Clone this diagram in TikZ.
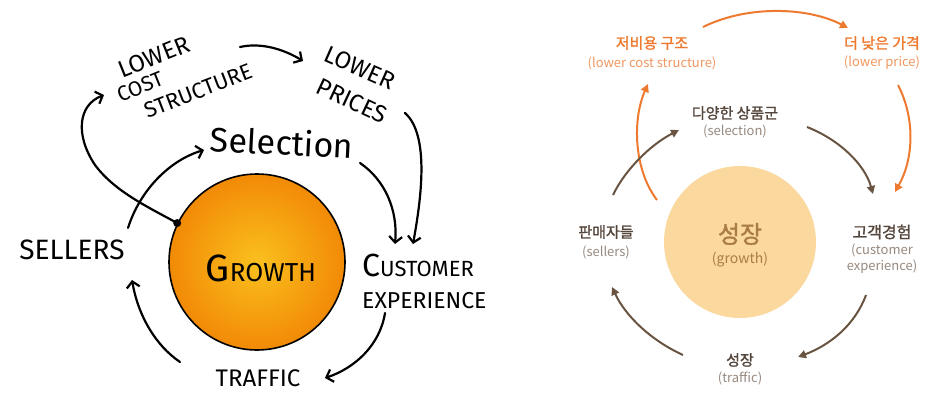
\documentclass[tikz,border=0pt]{standalone}
\usepackage{fontspec}
\setmainfont{Fira Sans}
\newfontfamily\kr{Noto Sans CJK KR}
\newfontfamily\krb{Noto Sans CJK KR}[FakeBold=1.5]
\usetikzlibrary{arrows.meta}
\definecolor{korange}{RGB}{238,122,48}
\definecolor{korangelt}{RGB}{240,150,95}
\definecolor{kbrown}{RGB}{105,84,66}
\definecolor{kdark}{RGB}{85,70,60}
\definecolor{kgray}{RGB}{150,136,126}
\definecolor{kpale}{RGB}{250,216,158}
\definecolor{kpaletxt}{RGB}{170,125,70}
\definecolor{gin}{RGB}{250,192,30}
\definecolor{gout}{RGB}{242,138,6}
\tikzset{
  hand/.style={font=\fontsize{#1}{#1}\selectfont, inner sep=0pt},
  larrow/.style={line width=2.2pt, line cap=round, -{Straight Barb[length=6pt,width=13pt]}},
  oarrow/.style={line width=2pt, korange, -{Triangle[length=8pt,width=8pt]}},
  barrow/.style={line width=2pt, kbrown, -{Triangle[length=8pt,width=8pt]}},
  ktitle/.style={font=\krb\fontsize{#1}{#1}\selectfont, inner sep=0pt, text=kdark},
  ksub/.style={font=\kr\fontsize{#1}{#1}\selectfont, inner sep=0pt, text=kgray},
}
\begin{document}
\begin{tikzpicture}[x=1pt,y=-1pt]
\useasboundingbox (0,0) rectangle (927,394);
% ---------------- left: hand-drawn flywheel ----------------
\node[circle, draw, line width=1.6pt, minimum size=176pt, inner sep=0pt,
      inner color=gin, outer color=gout] (g) at (257,262) {};
\node[hand=26] (gt) at (261,268) {\fontsize{38}{38}\selectfont G\fontsize{26}{26}\selectfont ROWTH};

\node[hand=24, rotate=22] (lcsA) at (154,57) {LOWER};
\node[hand=21, rotate=22] (lcsB) at (140,87) {COST};
\node[hand=22, rotate=21] (lcsC) at (198,91) {STRUCTURE};
\node[hand=24, rotate=-24] (lpA) at (360,68) {LOWER};
\node[hand=24, rotate=-25] (lpB) at (352,101) {PRICES};
\node[hand=34, rotate=-3] (sel) at (282,142) {Selection};
\node[hand=28] (sell) at (72,250) {SELLERS};
\node[hand=24, anchor=west] (cx1) at (362,265) {\fontsize{32}{32}\selectfont C\fontsize{22}{22}\selectfont USTOMER};
\node[hand=23, anchor=west] (cx2) at (362,301) {EXPERIENCE};
\node[hand=24] (tr) at (258,378) {TRAFFIC};

\coordinate (a1s) at (240,47);  \coordinate (a1e) at (303,61);
\coordinate (a2s) at (405,113); \coordinate (a2e) at (413,244);
\coordinate (a3s) at (360,163); \coordinate (a3e) at (395,244);
\coordinate (a4s) at (128,228); \coordinate (a4e) at (204,150);
\coordinate (a5m) at (95,165);  \coordinate (a5e) at (104,95);
\coordinate (a6s) at (385,313); \coordinate (a6e) at (325,378);
\coordinate (a7s) at (180,362); \coordinate (a7e) at (132,280);

\draw[larrow] (a1s) .. controls (262,42) and (285,50) .. (a1e);
\draw[larrow] (a2s) .. controls (430,135) and (421,200) .. (a2e);
\draw[larrow] (a3s) .. controls (385,180) and (398,210) .. (a3e);
\draw[larrow] (a4s) .. controls (140,190) and (170,160) .. (a4e);
\draw[larrow] (g.154) .. controls (150,208) and (115,192) .. (a5m)
              .. controls (75,135) and (78,105) .. (a5e);
\fill (g.154) circle (4pt);
\draw[larrow] (a6s) .. controls (380,345) and (355,368) .. (a6e);
\draw[larrow] (a7s) .. controls (155,345) and (138,315) .. (a7e);

% ---------------- right: Korean flywheel ----------------
\node[circle, fill=kpale, minimum size=152pt, inner sep=0pt] (kg) at (740,242) {};
\node[ktitle=24, text=kpaletxt] (kg1) at (740,234) {성장};
\node[ksub=14, text=kpaletxt] (kg2) at (740,260) {(growth)};

\node[ktitle=15, text=korange] (klcs1) at (652,43) {저비용 구조};
\node[ksub=13, text=korangelt] (klcs2) at (652,63) {(lower cost structure)};
\node[ktitle=15, text=korange] (klp1) at (882,43) {더 낮은 가격};
\node[ksub=13, text=korangelt] (klp2) at (882,63) {(lower price)};
\node[ktitle=15] (ksel1) at (735,113) {다양한 상품군};
\node[ksub=13] (ksel2) at (735,131) {(selection)};
\node[ktitle=15] (ksl1) at (606,232) {판매자들};
\node[ksub=13] (ksl2) at (606,252) {(sellers)};
\node[ktitle=16] (kcx1) at (882,232) {고객경험};
\node[ksub=13] (kcx2) at (882,250) {(customer};
\node[ksub=13] (kcx3) at (882,267) {experience)};
\node[ktitle=15] (ktr1) at (740,360) {성장};
\node[ksub=13] (ktr2) at (740,378) {(traffic)};

\coordinate (r1s) at (703,27);  \coordinate (r1e) at (848,28);
\coordinate (r2s) at (898,85);  \coordinate (r2e) at (895,192);
\coordinate (r3s) at (657,200); \coordinate (r3e) at (648,84);
\coordinate (r4s) at (613,195); \coordinate (r4e) at (679,130);
\coordinate (r5s) at (807,127); \coordinate (r5e) at (873,194);
\coordinate (r6s) at (866,295); \coordinate (r6e) at (798,357);
\coordinate (r7s) at (683,355); \coordinate (r7e) at (612,287);

\draw[oarrow] (r1s) .. controls (750,4) and (810,8) .. (r1e);
\draw[oarrow] (r2s) .. controls (916,120) and (913,160) .. (r2e);
\draw[oarrow] (r3s) .. controls (634,170) and (632,120) .. (r3e);
\draw[barrow] (r4s) .. controls (625,170) and (650,145) .. (r4e);
\draw[barrow] (r5s) .. controls (840,140) and (865,165) .. (r5e);
\draw[barrow] (r6s) .. controls (855,325) and (830,345) .. (r6e);
\draw[barrow] (r7s) .. controls (650,340) and (625,315) .. (r7e);
\end{tikzpicture}
\end{document}
